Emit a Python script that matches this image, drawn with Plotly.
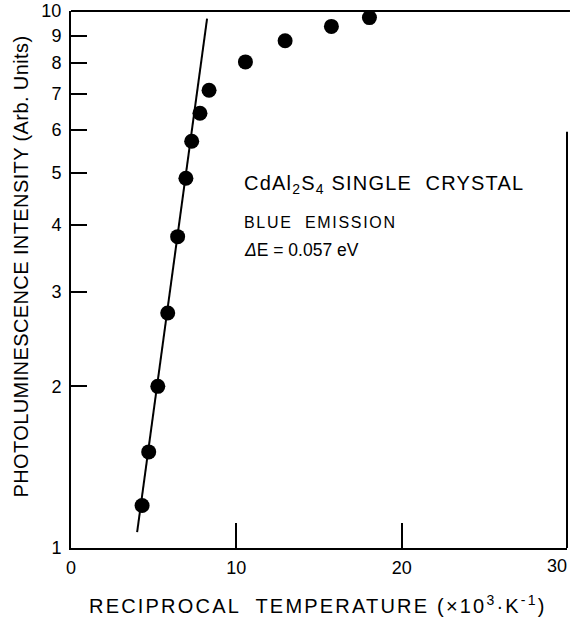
import plotly.graph_objects as go

# Data
recip_temp = [4.3, 4.7, 5.25, 5.85, 6.45, 6.95, 7.3, 7.8, 8.35, 10.55, 12.95, 15.75, 18.05]
intensity = [1.20, 1.51, 2.00, 2.74, 3.80, 4.88, 5.72, 6.45, 7.12, 8.04, 8.80, 9.36, 9.72]

fit_x = [4.0, 8.23]
fit_y = [1.07, 9.68]

x_ticks = [0, 10, 20, 30]
x_tick_labels = ["0", "10", "20", ""]
x_last_label = "30"
y_ticks = [1, 2, 3, 4, 5, 6, 7, 8, 9, 10]
y_tick_labels = [str(v) for v in y_ticks]

FONT = "Liberation Sans, Arial, Helvetica, sans-serif"

fig = go.Figure()
fig.add_trace(go.Scatter(
    x=fit_x, y=fit_y, mode="lines",
    line=dict(color="black", width=2), showlegend=False, hoverinfo="skip"))
fig.add_trace(go.Scatter(
    x=recip_temp, y=intensity, mode="markers",
    marker=dict(color="black", size=15, line=dict(width=0)), showlegend=False))

fig.update_layout(
    width=571, height=621,
    margin=dict(l=71, r=4, t=11, b=73, autoexpand=False),
    paper_bgcolor="white", plot_bgcolor="white",
    font=dict(family=FONT, color="black", size=17),
    showlegend=False,
)

fig.update_xaxes(
    range=[0, 30], tickvals=x_ticks, ticktext=x_tick_labels,
    ticks="inside", ticklen=25, tickwidth=2, tickcolor="black",
    showline=True, linecolor="black", linewidth=2, mirror=False,
    showgrid=False, zeroline=False, tickfont=dict(size=18), ticklabelstandoff=2,
    automargin=False,
)
fig.update_yaxes(
    type="log", range=[0, 1], tickvals=y_ticks, ticktext=y_tick_labels,
    ticks="inside", ticklen=16, tickwidth=2, tickcolor="black",
    showline=True, linecolor="black", linewidth=2, mirror=False,
    showgrid=False, zeroline=False, tickfont=dict(size=18), ticklabelstandoff=4,
    automargin=False,
)

# last x tick label, kept inside the page edge
fig.add_annotation(xref="x", yref="paper", x=x_ticks[-1], y=-0.012, xanchor="right", yanchor="top",
                   showarrow=False, font=dict(size=18), text=x_last_label, xshift=2)

# top border and partial right border
fig.add_shape(type="line", xref="paper", yref="paper", x0=0, x1=1.006, y0=1, y1=1,
              line=dict(color="black", width=2))
fig.add_shape(type="line", xref="paper", yref="paper", x0=1, x1=1, y0=0, y1=0.775,
              line=dict(color="black", width=2))


def spaced(text, size, spacing):
    return f"<span style='font-size:{size}px;letter-spacing:{spacing}px'>{text}</span>"


fig.add_annotation(xref="paper", yref="paper", x=0.345, y=0.676, xanchor="left", yanchor="middle",
                   showarrow=False, font=dict(size=20),
                   text=spaced("CdAl<sub>2</sub>S<sub>4</sub> SINGLE  CRYSTAL", 20, 1.2))
fig.add_annotation(xref="paper", yref="paper", x=0.345, y=0.607, xanchor="left", yanchor="middle",
                   showarrow=False, font=dict(size=16),
                   text=spaced("BLUE  EMISSION", 16, 1.7))
fig.add_annotation(xref="paper", yref="paper", x=0.345, y=0.555, xanchor="left", yanchor="middle",
                   showarrow=False, font=dict(size=17.5),
                   text="<i>Δ</i>E = 0.057 eV")

fig.add_annotation(xref="paper", yref="paper", x=0.497, y=-0.106, xanchor="center", yanchor="middle",
                   showarrow=False, font=dict(size=20),
                   text=spaced("RECIPROCAL  TEMPERATURE (×10<sup>3</sup>·K<sup>-1</sup>)", 20, 2.2))
fig.add_annotation(xref="paper", yref="paper", x=-0.101, y=0.524, xanchor="center", yanchor="middle",
                   showarrow=False, font=dict(size=20), textangle=-90,
                   text=spaced("PHOTOLUMINESCENCE INTENSITY (Arb. Units)", 20, 0.4))

fig.write_html("out.html", config={"displayModeBar": False},
               post_script="document.body.style.margin='0';")
